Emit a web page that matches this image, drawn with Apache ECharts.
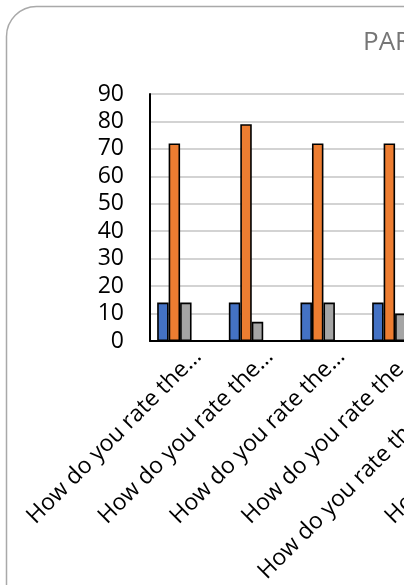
<!DOCTYPE html>
<html>
<head>
<meta charset="utf-8">
<script src="https://cdn.jsdelivr.net/npm/echarts@6/dist/echarts.min.js"></script>
<style>
html,body{margin:0;padding:0;background:#fff;overflow:hidden;width:404px;height:585px;}
#chart{width:700px;height:700px;}
</style>
</head>
<body>
<div id="chart"></div>
<script>
// Data (categories 5 and 6 only show their labels; bars are off-frame)
var titleText = 'PAR';
var categories = [
  'How do you rate the…',
  'How do you rate the…',
  'How do you rate the…',
  'How do you rate the…',
  'How do you rate the quality…',
  'How do you rate the…'
];
var seriesNames = ['Series 1', 'Series 2', 'Series 3', 'Series 4', 'Series 5'];
var series1 = [14, 14, 14, 14, null, null];
var series2 = [72, 79, 72, 72, null, null];
var series3 = [14, 7, 14, 10, null, null];
var series4 = [0, 0, 0, 0, null, null];
var series5 = [0, 0, 0, 0, null, null];
var yTicks = [0, 10, 20, 30, 40, 50, 60, 70, 80, 90];

var colors = ['#4472C4', '#ED7D31', '#A5A5A5', '#FFC000', '#5B9BD5'];
var allSeries = [series1, series2, series3, series4, series5];
var font = "'Open Sans', sans-serif";

var chart = echarts.init(document.getElementById('chart'), null, {renderer: 'canvas'});
chart.setOption({
  animation: false,
  backgroundColor: '#ffffff',
  title: {
    text: titleText,
    left: 363,
    top: 30,
    padding: 0,
    textStyle: {fontFamily: font, fontSize: 26, fontWeight: 'normal', color: '#767676'}
  },
  graphic: [{
    type: 'rect',
    shape: {x: 6.5, y: 6.5, width: 900, height: 900, r: 30},
    style: {fill: 'none', stroke: '#a9a9a9', lineWidth: 1.5},
    silent: true,
    z: -1
  }],
  grid: {left: 150, top: 94, width: 430, height: 247},
  xAxis: {
    type: 'category',
    data: categories,
    axisLine: {show: true, lineStyle: {color: '#000', width: 2}},
    axisTick: {show: false},
    axisLabel: {
      interval: 0,
      rotate: 45,
      margin: 0,
      verticalAlign: 'top',
      lineHeight: 34,
      fontFamily: font,
      fontSize: 23,
      color: '#000'
    },
    splitLine: {show: false}
  },
  yAxis: {
    type: 'value',
    min: yTicks[0],
    max: yTicks[yTicks.length - 1],
    interval: 10,
    axisLine: {show: true, lineStyle: {color: '#000', width: 2}},
    axisTick: {show: false},
    axisLabel: {margin: 26, fontFamily: font, fontSize: 23, color: '#000'},
    splitLine: {show: true, lineStyle: {color: '#c4c4c4', width: 1.5}}
  },
  series: allSeries.map(function (d, i) {
    return {
      name: seriesNames[i],
      type: 'bar',
      data: d,
      barGap: '0%',
      barCategoryGap: '20%',
      itemStyle: {color: colors[i], borderColor: '#000', borderWidth: 1.6}
    };
  })
});
</script>
</body>
</html>
